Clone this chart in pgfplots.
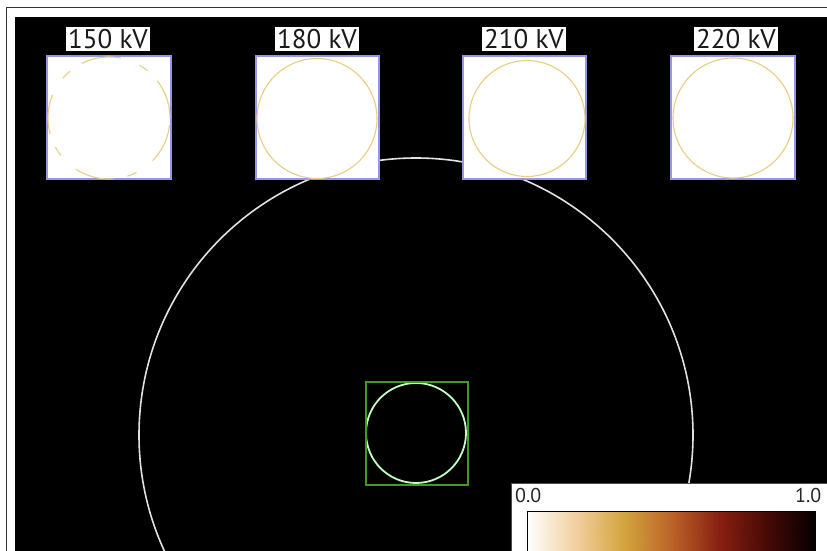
\documentclass[border=0pt]{standalone}
\usepackage{pgfplots}
\pgfplotsset{compat=1.18}
\usepackage{fontspec}
\setmainfont{PT Sans}
\definecolor{lav}{RGB}{150,150,230}
\definecolor{gold}{RGB}{232,205,130}
\definecolor{grn}{RGB}{70,150,40}
\definecolor{ring}{RGB}{225,225,225}
\begin{document}
\begin{tikzpicture}
\begin{axis}[name=main, scale only axis, width=827pt, height=551pt,
  xmin=0, xmax=827, ymin=0, ymax=551, y dir=reverse,
  axis lines=none, ticks=none, clip=true, clip marker paths=true,
  colormap={heat}{rgb255=(255,255,255) rgb255=(242,208,160) rgb255=(212,165,62) rgb255=(188,100,42) rgb255=(135,32,18) rgb255=(70,10,6) rgb255=(3,0,0)},
  point meta min=0, point meta max=1,
]
% background and frame
\addplot[fill=white, draw=none] coordinates {(0,0) (827,0) (827,551) (0,551)} --cycle;
\addplot[draw=black!80, line width=1pt] coordinates {(6.5,570) (6.5,8) (840,8)};
\addplot[fill=black, draw=none] coordinates {(15,17) (840,17) (840,570) (15,570)} --cycle;
% big ring
\addplot[only marks, mark=o, mark size=277pt, mark options={draw=ring, line width=1.6pt}] coordinates {(416,435)};
% small ring and green box
\addplot[only marks, mark=o, mark size=50pt, mark options={draw=white!75!green, line width=1.8pt}] coordinates {(416,433)};
\addplot[draw=grn, line width=1.3pt] coordinates {(366,382) (468,382) (468,485) (366,485)} --cycle;
% insets
\addplot[fill=white, draw=lav, line width=1.5pt] coordinates {(47,56) (171,56) (171,179) (47,179)} --cycle;
\addplot[fill=white, draw=lav, line width=1.5pt] coordinates {(256,56) (379,56) (379,179) (256,179)} --cycle;
\addplot[fill=white, draw=lav, line width=1.5pt] coordinates {(463,56) (586,56) (586,179) (463,179)} --cycle;
\addplot[fill=white, draw=lav, line width=1.5pt] coordinates {(671,56) (795,56) (795,179) (671,179)} --cycle;
\addplot[only marks, mark=o, mark size=61pt, mark options={draw=gold, line width=1.1pt, dash pattern=on 40pt off 14pt on 10pt off 20pt}] coordinates {(109,118)};
\addplot[only marks, mark=o, mark size=60pt, mark options={draw=gold, line width=1.1pt}] coordinates {(317,118.5)};
\addplot[only marks, mark=o, mark size=58pt, mark options={draw=gold, line width=1.1pt}] coordinates {(527,118.5)};
\addplot[only marks, mark=o, mark size=60pt, mark options={draw=gold, line width=1.1pt}] coordinates {(733,118)};
% labels
\node[fill=white, inner sep=2pt, text=black!90, font=\fontsize{27}{31}\selectfont] at (axis cs:108,39) {150 kV};
\node[fill=white, inner sep=2pt, text=black!90, font=\fontsize{27}{31}\selectfont] at (axis cs:317,39) {180 kV};
\node[fill=white, inner sep=2pt, text=black!90, font=\fontsize{27}{31}\selectfont] at (axis cs:524,39) {210 kV};
\node[fill=white, inner sep=2pt, text=black!90, font=\fontsize{27}{31}\selectfont] at (axis cs:736,39) {220 kV};
% colorbar box
\addplot[fill=white, draw=gray!60!black, line width=1pt] coordinates {(511,483) (845,483) (845,570) (511,570)} --cycle;
\addplot[patch, patch type=rectangle, shader=interp, point meta=explicit] coordinates {
 (527,511) [0] (575,511) [0.166667] (575,560) [0.166667] (527,560) [0]
 (575,511) [0.166667] (623,511) [0.333333] (623,560) [0.333333] (575,560) [0.166667]
 (623,511) [0.333333] (671,511) [0.5] (671,560) [0.5] (623,560) [0.333333]
 (671,511) [0.5] (719,511) [0.666667] (719,560) [0.666667] (671,560) [0.5]
 (719,511) [0.666667] (767,511) [0.833333] (767,560) [0.833333] (719,560) [0.666667]
 (767,511) [0.833333] (815,511) [1] (815,560) [1] (767,560) [0.833333]
};
\addplot[draw=black, line width=0.7pt] coordinates {(527,560) (527,511) (815,511) (815,560)};
\node[anchor=west, inner sep=0pt, text=black!85, font=\fontsize{20}{24}\selectfont] at (axis cs:515,495) {0.0};
\node[anchor=west, inner sep=0pt, text=black!85, font=\fontsize{20}{24}\selectfont] at (axis cs:795,495) {1.0};
\end{axis}
\pgfresetboundingbox
\useasboundingbox (main.south west) rectangle (main.north east);
\end{tikzpicture}
\end{document}
